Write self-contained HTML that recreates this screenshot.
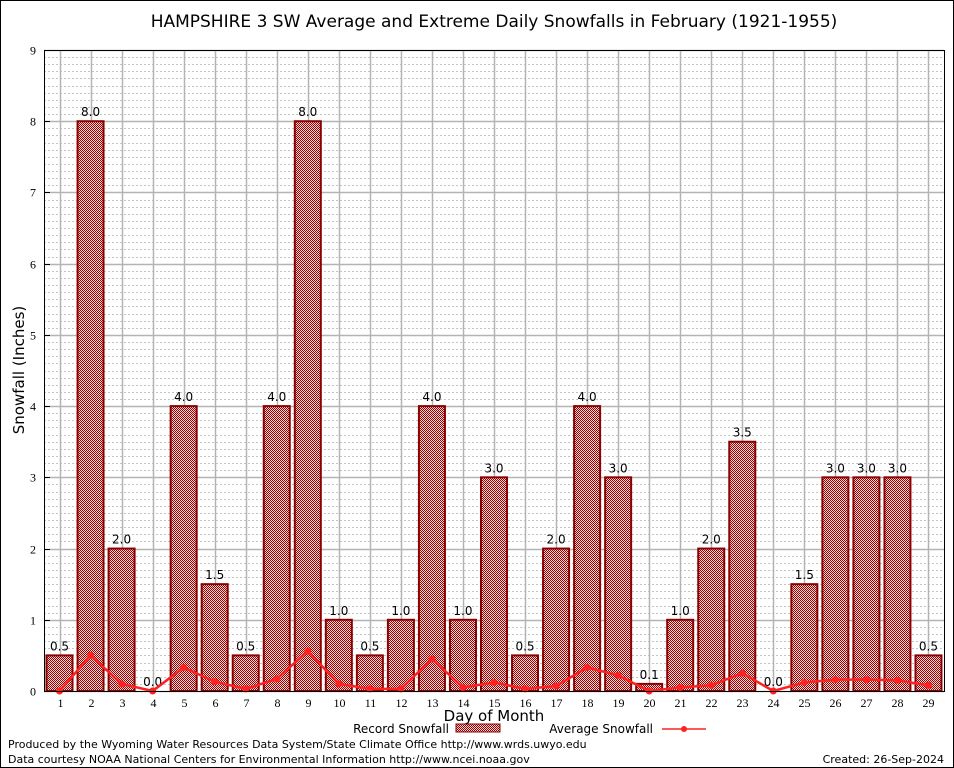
<!DOCTYPE html>
<html><head><meta charset="utf-8"><style>
html,body{margin:0;padding:0;background:#fff}
svg{display:block;font-family:"DejaVu Sans","Liberation Sans",sans-serif}
</style></head><body>
<svg id="chart" width="954" height="768" viewBox="0 0 954 768">
<defs>
<pattern id="chk" width="2" height="2" patternUnits="userSpaceOnUse">
<rect width="2" height="2" fill="#f4d8d8"/><rect width="1" height="1" fill="#9a0000"/><rect x="1" y="1" width="1" height="1" fill="#9a0000"/>
</pattern>
</defs>
<rect x="0.5" y="0.5" width="953" height="767" fill="#fff" stroke="#000"/>
<text x="494" y="27" font-size="17" text-anchor="middle">HAMPSHIRE 3 SW Average and Extreme Daily Snowfalls in February (1921-1955)</text>
<g id="grid"></g>
<g id="bars"></g>
<g id="avg"></g>
<g id="axes"></g>
<text x="24" y="370" font-size="15" text-anchor="middle" transform="rotate(-90 24 370)">Snowfall (Inches)</text>
<text x="494" y="721" font-size="15" text-anchor="middle">Day of Month</text>
<g font-size="12">
<text x="449" y="733" text-anchor="end">Record Snowfall</text>
<rect x="456" y="724" width="44" height="8" fill="url(#chk)" stroke="#8b0000"/>
<text x="653" y="733" text-anchor="end">Average Snowfall</text>
<line x1="662" y1="729" x2="706" y2="729" stroke="#ff2020" stroke-width="1.5"/>
<circle cx="684" cy="729" r="3" fill="#ff2020"/>
</g>
<text x="8" y="748" font-size="11">Produced by the Wyoming Water Resources Data System/State Climate Office http://www.wrds.uwyo.edu</text>
<text x="8" y="763" font-size="11">Data courtesy NOAA National Centers for Environmental Information http://www.ncei.noaa.gov</text>
<text x="944" y="763" font-size="11" text-anchor="end">Created:  26-Sep-2024</text>
</svg>
<script>
const days=[1,2,3,4,5,6,7,8,9,10,11,12,13,14,15,16,17,18,19,20,21,22,23,24,25,26,27,28,29];
const recordValues=[0.5,8.0,2.0,0.0,4.0,1.5,0.5,4.0,8.0,1.0,0.5,1.0,4.0,1.0,3.0,0.5,2.0,4.0,3.0,0.1,1.0,2.0,3.5,0.0,1.5,3.0,3.0,3.0,0.5];
const averageValues=[0.0,0.5,0.1,0.0,0.33,0.13,0.03,0.17,0.56,0.1,0.03,0.03,0.45,0.05,0.12,0.03,0.07,0.33,0.22,0.0,0.05,0.08,0.25,0.0,0.12,0.16,0.16,0.15,0.08];
const yTicks=[0,1,2,3,4,5,6,7,8,9];
const NS='http://www.w3.org/2000/svg';
const L=44,R=944,T=50,B=691,yMax=9;
const cw=(R-L)/days.length;
function xC(i){return L+(i+0.5)*cw;}
function yS(v){return B-(v/yMax)*(B-T);}
function mk(tag,attrs,parent){const e=document.createElementNS(NS,tag);for(const k in attrs)e.setAttribute(k,attrs[k]);parent.appendChild(e);return e;}
const grid=document.getElementById('grid'),bars=document.getElementById('bars'),avg=document.getElementById('avg'),axes=document.getElementById('axes');
for(let m=1;m<yMax*10;m++){if(m%10===0)continue;const y=Math.round(yS(m/10))+0.5;
const g=mk('line',{x1:L,x2:R,y1:y,y2:y,stroke:'#c4c4c4','stroke-dasharray':'2,2','stroke-width':1},grid);

}
yTicks.forEach(t=>{const y=Math.round(yS(t))+0.5;
const g=mk('line',{x1:L,x2:R,y1:y,y2:y,stroke:'#b4b4b4','stroke-width':1.5},grid);


const tk=mk('line',{x1:L,x2:L+6,y1:y,y2:y,stroke:'#000'},axes);


const tx=mk('text',{x:L-8,y:y+4,'font-size':12,'text-anchor':'end','font-family':'Liberation Serif,serif'},axes);
tx.textContent=t;

});
days.forEach((d,i)=>{const x=Math.round(xC(i))+0.5;
const g=mk('line',{x1:x,x2:x,y1:T,y2:B,stroke:'#b4b4b4','stroke-width':1.5},grid);


const tx=mk('text',{x:x,y:B+16,'font-size':12,'text-anchor':'middle','font-family':'Liberation Serif,serif'},axes);
tx.textContent=d;


const v=recordValues[i],y=yS(v),bw=26;
if(v>0){const r=mk('rect',{x:xC(i)-bw/2,y:y,width:bw,height:B-y,fill:'url(#chk)',stroke:'#8b0000','stroke-width':2},bars);

}
const lb=mk('text',{x:xC(i),y:y-5,'font-size':12,'text-anchor':'middle'},bars);
lb.textContent=v.toFixed(1);

});
const pts=averageValues.map((v,i)=>xC(i)+','+yS(v)).join(' ');
const pl=mk('polyline',{points:pts,fill:'none',stroke:'#ff2020','stroke-width':2.5},avg);


averageValues.forEach((v,i)=>{const c=mk('circle',{cx:xC(i),cy:yS(v),r:3.5,fill:'#ff2020'},avg);

});
const fr=mk('rect',{x:L+0.5,y:T+0.5,width:R-L,height:B-T,fill:'none',stroke:'#000','stroke-width':1},axes);


</script>
</body></html>
